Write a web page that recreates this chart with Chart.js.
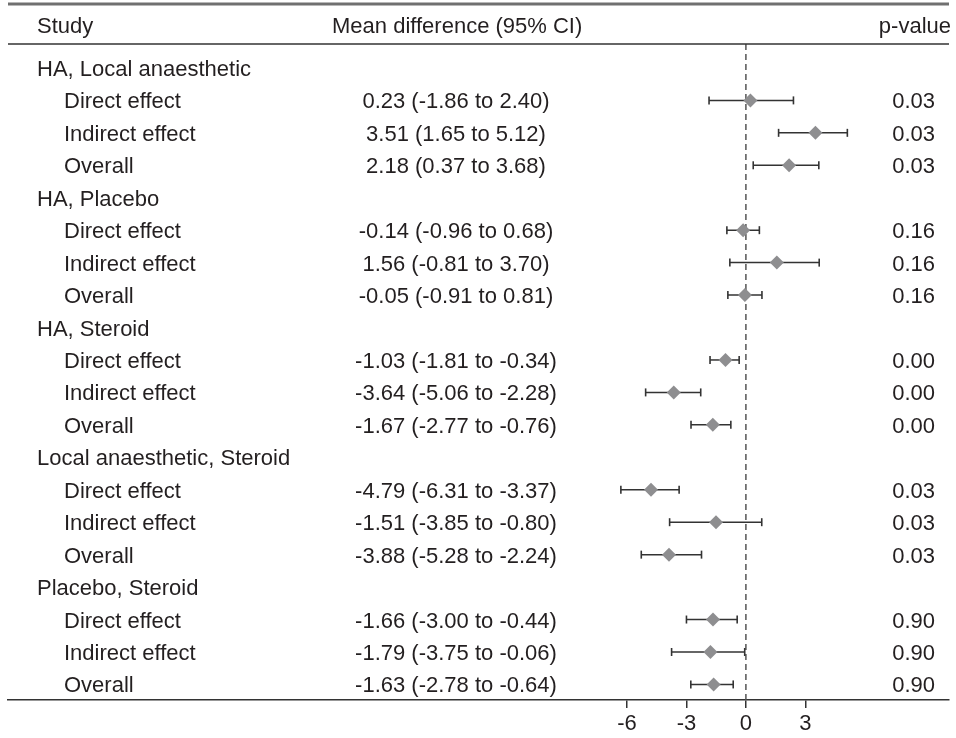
<!DOCTYPE html>
<html lang="en">
<head>
<meta charset="UTF-8">
<title>Network meta-analysis forest plot</title>
<script src="https://cdn.jsdelivr.net/npm/chart.js@4.4.1/dist/chart.umd.min.js"></script>
<style>
    body { margin: 0; background: #fff; }
    canvas { display: block; }
</style>
</head>
<body>
<canvas id="forest" width="956" height="738"></canvas>

<script>
// Comparisons and the three estimates shown for each
var groups = ['HA, Local anaesthetic', 'HA, Placebo', 'HA, Steroid', 'Local anaesthetic, Steroid', 'Placebo, Steroid'];
var effects = ['Direct effect', 'Indirect effect', 'Overall'];

// Mean difference and 95% CI bounds, one row per group (direct, indirect, overall)
var meanDiff = [[0.23, 3.51, 2.18], [-0.14, 1.56, -0.05], [-1.03, -3.64, -1.67], [-4.79, -1.51, -3.88], [-1.66, -1.79, -1.63]];
var ciLow = [[-1.86, 1.65, 0.37], [-0.96, -0.81, -0.91], [-1.81, -5.06, -2.77], [-6.31, -3.85, -5.28], [-3.00, -3.75, -2.78]];
var ciHigh = [[2.40, 5.12, 3.68], [0.68, 3.70, 0.81], [-0.34, -2.28, -0.76], [-3.37, 0.80, -2.24], [-0.44, -0.06, -0.64]];

// Text column as printed
var ciText = [
    ['0.23 (-1.86 to 2.40)', '3.51 (1.65 to 5.12)', '2.18 (0.37 to 3.68)'],
    ['-0.14 (-0.96 to 0.68)', '1.56 (-0.81 to 3.70)', '-0.05 (-0.91 to 0.81)'],
    ['-1.03 (-1.81 to -0.34)', '-3.64 (-5.06 to -2.28)', '-1.67 (-2.77 to -0.76)'],
    ['-4.79 (-6.31 to -3.37)', '-1.51 (-3.85 to -0.80)', '-3.88 (-5.28 to -2.24)'],
    ['-1.66 (-3.00 to -0.44)', '-1.79 (-3.75 to -0.06)', '-1.63 (-2.78 to -0.64)']
];
var pValues = ['0.03', '0.16', '0.00', '0.03', '0.90'];
var xTicks = [-6, -3, 0, 3];

var FONT = '22px "Liberation Sans", Arial, sans-serif';
var INK = '#231f20';
var Y_MIN = -0.738, Y_MAX = 19.48;

// build the row list: group header then its three effects
var rows = [];
groups.forEach(function(g, gi) {
    rows.push({ label: g, group: true });
    effects.forEach(function(e, ei) {
        rows.push({ label: e, group: false, gi: gi, ei: ei });
    });
});

var datasets = [];
var diamonds = [];
rows.forEach(function(r, i) {
    if (r.group) return;
    datasets.push({
        type: 'line',
        data: [{ x: ciLow[r.gi][r.ei], y: i }, { x: ciHigh[r.gi][r.ei], y: i }],
        borderColor: '#333',
        borderWidth: 1.5,
        pointStyle: 'line',
        rotation: 90,
        pointRadius: 4,
        pointBorderColor: '#333',
        pointBorderWidth: 1.6,
        showLine: true,
        order: 2
    });
    diamonds.push({ x: meanDiff[r.gi][r.ei], y: i });
});

// reference line at zero
datasets.push({
    type: 'line',
    data: [{ x: 0, y: Y_MIN }, { x: 0, y: Y_MAX }],
    borderColor: '#555',
    borderWidth: 1.5,
    borderDash: [6, 4],
    pointRadius: 0,
    showLine: true,
    order: 3
});

datasets.push({
    type: 'scatter',
    data: diamonds,
    pointStyle: 'rectRot',
    pointRadius: 7,
    backgroundColor: '#8e8e90',
    borderWidth: 0,
    order: 1
});

var textColumns = {
    id: 'textColumns',
    afterDraw: function(chart) {
        var ctx = chart.ctx;
        var y = chart.scales.y;
        var area = chart.chartArea;
        ctx.save();
        ctx.font = FONT;
        ctx.fillStyle = INK;

        // header
        ctx.textAlign = 'left';
        ctx.fillText('Study', 37, 33);
        ctx.fillText('Mean difference (95% CI)', 332, 33);
        ctx.textAlign = 'right';
        ctx.fillText('p-value', 951, 33);

        rows.forEach(function(r, i) {
            var py = y.getPixelForValue(i) + 8;
            if (r.group) {
                ctx.textAlign = 'left';
                ctx.fillText(r.label, 37, py);
            } else {
                ctx.textAlign = 'left';
                ctx.fillText(r.label, 64, py);
                ctx.textAlign = 'center';
                ctx.fillText(ciText[r.gi][r.ei], 456, py);
                ctx.textAlign = 'right';
                ctx.fillText(pValues[r.gi], 935, py);
            }
        });

        // rules
        ctx.strokeStyle = '#707070';
        ctx.lineWidth = 3;
        ctx.beginPath();
        ctx.moveTo(area.left, 4);
        ctx.lineTo(area.right, 4);
        ctx.stroke();
        ctx.strokeStyle = '#333';
        ctx.lineWidth = 1.5;
        ctx.beginPath();
        ctx.moveTo(area.left, area.top);
        ctx.lineTo(area.right, area.top);
        ctx.stroke();
        ctx.restore();
    }
};

var ctx = document.getElementById('forest').getContext('2d');
var chart = new Chart(ctx, {
    type: 'scatter',
    data: { datasets: datasets },
    options: {
        responsive: false,
        animation: false,
        layout: { padding: { left: 8, right: 3, top: 44, bottom: -2 } },
        plugins: { legend: { display: false }, tooltip: { enabled: false } },
        scales: {
            x: {
                type: 'linear',
                min: -37.24,
                max: 10.25,
                afterBuildTicks: function(axis) {
                    axis.ticks = xTicks.map(function(v) { return { value: v }; });
                },
                grid: { display: true, drawOnChartArea: false, drawTicks: true, tickLength: 8, color: '#333', lineWidth: 1.5 },
                border: { display: true, color: '#333', width: 1.5 },
                ticks: { color: INK, font: { family: '"Liberation Sans", Arial, sans-serif', size: 22, lineHeight: 1.0 }, padding: 5, maxRotation: 0 }
            },
            y: {
                type: 'linear',
                reverse: true,
                min: Y_MIN,
                max: Y_MAX,
                display: false
            }
        }
    },
    plugins: [textColumns]
});
</script>
</body>
</html>
